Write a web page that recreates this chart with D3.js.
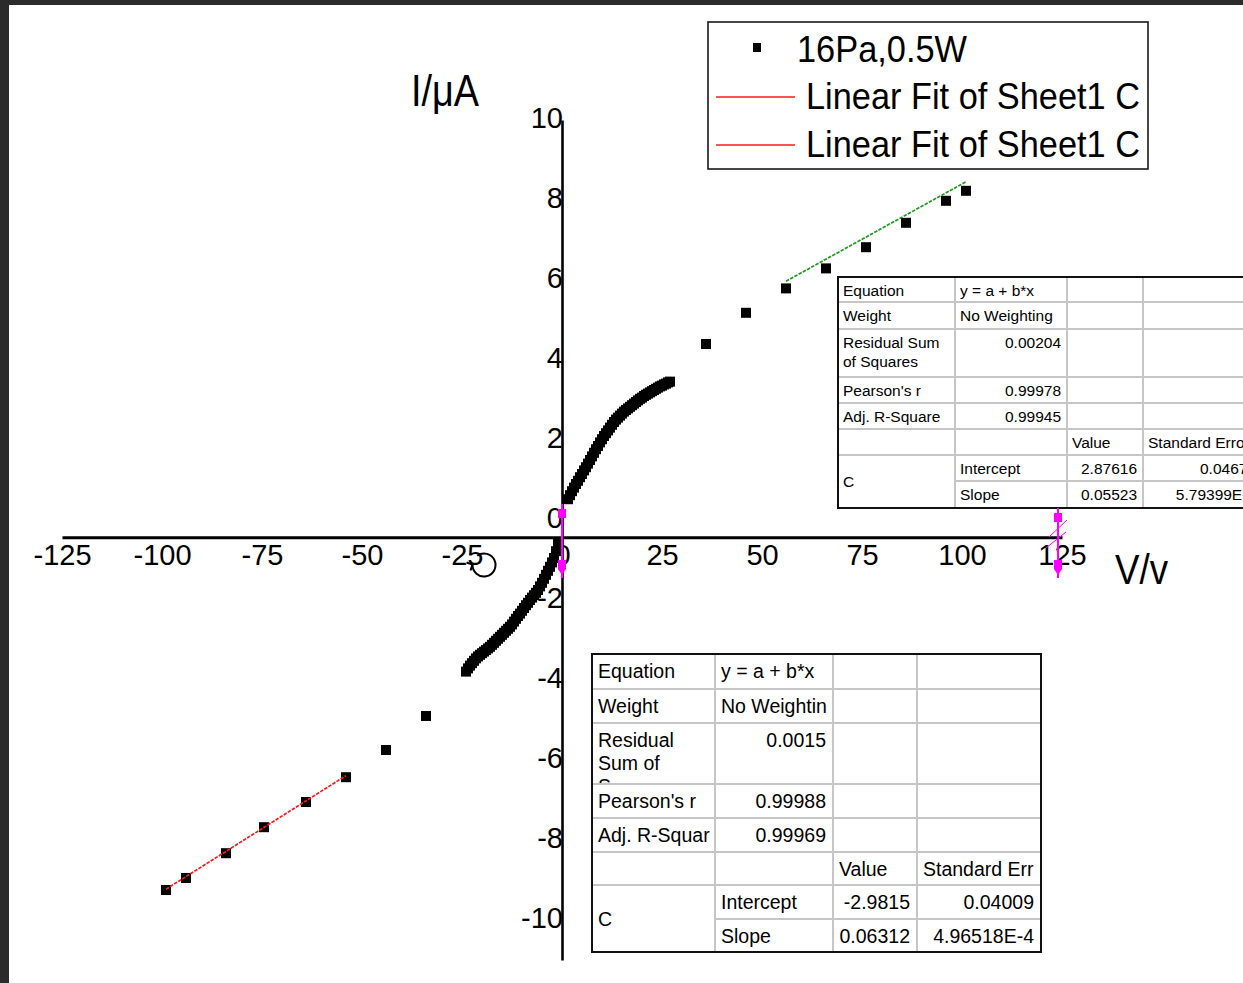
<!DOCTYPE html>
<html>
<head>
<meta charset="utf-8">
<script src="https://cdn.jsdelivr.net/npm/d3@7"></script>
<style>
  html, body { margin: 0; padding: 0; background: #2b2b2b; overflow: hidden; }
  svg { display: block; }
  text { font-family: "Liberation Sans", Arial, sans-serif; fill: #000; }
</style>
</head>
<body>
<svg id="chart" width="1243" height="983"></svg>
<script>
// ---- I–V data, 16 Pa, 0.5 W (V in volts, I in µA) ----
const voltage = [
  -99, -94, -84, -74.5, -64, -54, -44, -34,
  -24, -23.5, -23, -22.5, -22, -21.5, -21, -20.5, -20, -19.5, -19, -18.5, -18, -17.5,
  -17, -16.5, -16, -15.5, -15, -14.5, -14, -13.5, -13, -12.5, -12, -11.5, -11, -10.5,
  -10, -9.5, -9, -8.5, -8, -7.5, -7, -6.5, -6, -5.5, -5, -4.5, -4, -3.5, -3, -2.5,
  -2, -1.5, -1,
  1.5, 2, 2.5, 3, 3.5, 4, 4.5, 5, 5.5, 6, 6.5, 7, 7.5, 8, 8.5, 9, 9.5, 10,
  10.5, 11, 11.5, 12, 12.5, 13, 13.5, 14, 14.5, 15, 15.5, 16, 16.5, 17, 17.5, 18,
  18.5, 19, 19.5, 20, 20.5, 21, 21.5, 22, 22.5, 23, 23.5, 24, 24.5, 25, 25.5, 26,
  26.5, 27,
  36, 46, 56, 66, 76, 86, 96, 101
];
const current = [
  -9.25, -8.95, -8.33, -7.68, -7.05, -6.43, -5.75, -4.9,
  -3.79, -3.71, -3.64, -3.58, -3.52, -3.46, -3.41, -3.37, -3.33, -3.29, -3.25, -3.21, -3.17, -3.12,
  -3.07, -3.02, -2.97, -2.92, -2.87, -2.82, -2.77, -2.72, -2.67, -2.61, -2.54, -2.47, -2.4, -2.34,
  -2.27, -2.2, -2.13, -2.07, -2.0, -1.94, -1.88, -1.82, -1.75, -1.66, -1.57, -1.47, -1.37, -1.27, -1.17, -1.06,
  -0.95, -0.78, -0.6,
  0.52, 0.62, 0.72, 0.81, 0.9, 0.98, 1.07, 1.15, 1.24, 1.32, 1.41, 1.5, 1.59, 1.68, 1.77, 1.85, 1.94, 2.02,
  2.1, 2.17, 2.24, 2.31, 2.38, 2.45, 2.51, 2.56, 2.61, 2.66, 2.71, 2.75, 2.79, 2.83, 2.87, 2.91,
  2.95, 2.99, 3.03, 3.06, 3.1, 3.13, 3.16, 3.19, 3.22, 3.25, 3.28, 3.31, 3.34, 3.36, 3.39, 3.41,
  3.44, 3.46,
  4.4, 5.18, 5.79, 6.29, 6.82, 7.43, 7.98, 8.23
];

// Linear fits (y = a + b*x) over the two saturation branches
const fitIntercepts = [-2.9815, 2.87616];
const fitSlopes     = [0.06312, 0.05523];
const fitFrom       = [-99, 56];
const fitTo         = [-54, 101];
const fitColors     = ["#ff1a1a", "#1f9a1f"];

const xTicks = [-125, -100, -75, -50, -25, 0, 25, 50, 75, 100, 125];
const yTicks = [-10, -8, -6, -4, -2, 0, 2, 4, 6, 8, 10];
const xDomain = [-125, 125];
const yDomain = [-11, 10];
const xAxisCrossing = -0.43;   // current value where the V axis is placed

const legendLabels = ["16Pa,0.5W", "Linear Fit of Sheet1 C", "Linear Fit of Sheet1 C"];

// Fit report tables
const lowerTable = [
  ["Equation", "y = a + b*x", "", ""],
  ["Weight", "No Weightin", "", ""],
  ["Residual\nSum of\nS", "0.0015", "", ""],
  ["Pearson's r", "0.99988", "", ""],
  ["Adj. R-Squar", "0.99969", "", ""],
  ["", "", "Value", "Standard Err"],
  ["C", "Intercept", "-2.9815", "0.04009"],
  [null, "Slope", "0.06312", "4.96518E-4"]
];
const upperTable = [
  ["Equation", "y = a + b*x", "", ""],
  ["Weight", "No Weighting", "", ""],
  ["Residual Sum\nof Squares", "0.00204", "", ""],
  ["Pearson's r", "0.99978", "", ""],
  ["Adj. R-Square", "0.99945", "", ""],
  ["", "", "Value", "Standard Error"],
  ["C", "Intercept", "2.87616", "0.04674"],
  [null, "Slope", "0.05523", "5.79399E-4"]
];

// ---- drawing ----
const svg = d3.select("#chart");
svg.append("rect").attr("x", 9).attr("y", 5).attr("width", 1243).attr("height", 983).attr("fill", "#ffffff");

const x = d3.scaleLinear().domain(xDomain).range([62, 1062]);
const y = d3.scaleLinear().domain(yDomain).range([960, 120]);

// V axis
const gx = svg.append("g")
  .attr("transform", `translate(0,${y(xAxisCrossing)})`)
  .call(d3.axisBottom(x).tickValues(xTicks).tickSize(0).tickSizeOuter(0).tickPadding(7).tickFormat(d => String(d)));
gx.select(".domain").attr("stroke", "#000").attr("stroke-width", 3);
gx.selectAll("text").attr("font-size", 29).attr("font-family", "Liberation Sans, Arial, sans-serif").attr("fill", "#000");

// I axis
const gy = svg.append("g")
  .attr("transform", `translate(${x(0)},0)`)
  .call(d3.axisLeft(y).tickValues(yTicks).tickSize(0).tickSizeOuter(0).tickPadding(-1).tickFormat(d => String(d)));
gy.select(".domain").attr("stroke", "#000").attr("stroke-width", 2.6);
gy.selectAll("text").attr("font-size", 29).attr("dy", "0.25em")
  .attr("font-family", "Liberation Sans, Arial, sans-serif").attr("fill", "#000");

// axis titles
svg.append("text").attr("x", 411).attr("y", 106).attr("font-size", 44)
  .attr("textLength", 68).attr("lengthAdjust", "spacingAndGlyphs").text("I/μA");
svg.append("text").attr("x", 1115).attr("y", 584).attr("font-size", 43)
  .attr("textLength", 53).attr("lengthAdjust", "spacingAndGlyphs").text("V/v");

// data markers
const pts = voltage.map((v, i) => ({ v, i: current[i] }));
const ms = 10;
svg.append("g").selectAll("rect").data(pts).join("rect")
  .attr("x", d => x(d.v) - ms / 2)
  .attr("y", d => y(d.i) - ms / 2)
  .attr("width", ms).attr("height", ms)
  .attr("fill", "#000");

// fit lines
const line = d3.line().x(d => x(d[0])).y(d => y(d[1]));
fitIntercepts.forEach((a, k) => {
  const b = fitSlopes[k];
  const seg = [[fitFrom[k], a + b * fitFrom[k]], [fitTo[k], a + b * fitTo[k]]];
  svg.append("path").attr("d", line(seg)).attr("fill", "none")
    .attr("stroke", fitColors[k]).attr("stroke-width", 1.7).attr("stroke-dasharray", "3.5,1.3");
});

// legend
const lg = svg.append("g");
lg.append("rect").attr("x", 708).attr("y", 22).attr("width", 440).attr("height", 147)
  .attr("fill", "#fff").attr("stroke", "#1a1a1a").attr("stroke-width", 1.6);
lg.append("rect").attr("x", 753).attr("y", 43).attr("width", 8).attr("height", 9).attr("fill", "#000");
lg.append("text").attr("x", 797).attr("y", 62).attr("font-size", 37)
  .attr("textLength", 170).attr("lengthAdjust", "spacingAndGlyphs").text(legendLabels[0]);
[1, 2].forEach((k, j) => {
  const cy = 97 + j * 48;
  lg.append("line").attr("x1", 716).attr("x2", 795).attr("y1", cy).attr("y2", cy)
    .attr("stroke", "#ff1a1a").attr("stroke-width", 1.6);
  lg.append("text").attr("x", 806).attr("y", cy + 12).attr("font-size", 37)
    .attr("textLength", 334).attr("lengthAdjust", "spacingAndGlyphs").text(legendLabels[k]);
});

// fit report tables
let clipId = 0;
const isNum = s => /^-?[\d.]+(E-?\d+)?$/.test(s);
function drawTable(cells, cols, rows, fs, lineH, firstOff, padL, padR) {
  const g = svg.append("g");
  g.append("rect").attr("x", cols[0]).attr("y", rows[0])
    .attr("width", cols[cols.length - 1] - cols[0]).attr("height", rows[rows.length - 1] - rows[0])
    .attr("fill", "#fff");
  const borders = g.append("g");
  const texts = g.append("g");
  cells.forEach((row, r) => row.forEach((s, c) => {
    if (s === null) return;
    const span = (r + 1 < cells.length && cells[r + 1][c] === null) ? 2 : 1;
    const x0 = cols[c], x1 = cols[c + 1], y0 = rows[r], y1 = rows[r + span];
    borders.append("rect").attr("x", x0).attr("y", y0).attr("width", x1 - x0).attr("height", y1 - y0)
      .attr("fill", "none").attr("stroke", "#c6c6c6").attr("stroke-width", 2);
    if (!s) return;
    const id = "cell" + (clipId++);
    g.append("clipPath").attr("id", id).append("rect")
      .attr("x", x0 + 1).attr("y", y0 + 1).attr("width", x1 - x0 - 2).attr("height", y1 - y0 - 2);
    const lines = s.split("\n");
    const right = isNum(s);
    const c0 = span > 1 ? (y0 + y1) / 2 - (lines.length - 1) * lineH / 2 : y0 + firstOff;
    const t = texts.append("text").attr("clip-path", `url(#${id})`)
      .attr("font-size", fs).attr("fill", "#141414")
      .attr("text-anchor", right ? "end" : "start");
    lines.forEach((ln, j) => {
      t.append("tspan").attr("x", right ? x1 - padR : x0 + padL)
        .attr("y", c0 + j * lineH + fs * 0.36).text(ln);
    });
  }));
  g.append("rect").attr("x", cols[0]).attr("y", rows[0])
    .attr("width", cols[cols.length - 1] - cols[0]).attr("height", rows[rows.length - 1] - rows[0])
    .attr("fill", "none").attr("stroke", "#111").attr("stroke-width", 2);
}
drawTable(upperTable, [838, 955, 1067, 1143, 1262], [277, 302, 329, 377, 403, 429, 455, 481, 508],
  15.5, 19, 13, 5, 6);
drawTable(lowerTable, [592, 715, 833, 917, 1041], [654, 689, 723, 784, 818, 852, 885, 919, 952],
  19.5, 23, 16.5, 6, 7);

// data-reader cursors
const mg = svg.append("g").attr("stroke", "#ff00ff").attr("fill", "#ff00ff");
function cursor(cx, yTop, yBot) {
  mg.append("line").attr("x1", cx).attr("x2", cx).attr("y1", yTop).attr("y2", yBot).attr("stroke-width", 2);
  mg.append("rect").attr("x", cx - 4).attr("y", yTop + 5).attr("width", 8).attr("height", 9).attr("stroke", "none");
  mg.append("path").attr("d", `M${cx - 4},${yBot - 18}L${cx + 4},${yBot - 18}L${cx + 4},${yBot - 9}L${cx},${yBot - 3}L${cx - 4},${yBot - 9}Z`)
    .attr("stroke", "none");
}
cursor(x(0), 504, 578);
cursor(1058, 508, 578);
mg.append("line").attr("x1", 1046).attr("y1", 548).attr("x2", 1066).attr("y2", 532).attr("stroke-width", 1);
mg.append("line").attr("x1", 1049).attr("y1", 537).attr("x2", 1067).attr("y2", 520).attr("stroke-width", 1);

// rotate handle
const rc = [484, 565], rr = 11.5;
const a0 = -2.2, a1 = -2.2 + 2 * Math.PI - 0.9;
const arcPath = d3.path();
arcPath.arc(rc[0], rc[1], rr, a0, a1);
svg.append("path").attr("d", arcPath.toString()).attr("fill", "none").attr("stroke", "#000").attr("stroke-width", 2);
const ex = rc[0] + rr * Math.cos(a1), ey = rc[1] + rr * Math.sin(a1);
svg.append("path").attr("d", `M${ex - 6},${ey - 2}L${ex},${ey}L${ex - 2},${ey + 6}`)
  .attr("fill", "none").attr("stroke", "#000").attr("stroke-width", 2);
</script>
</body>
</html>
